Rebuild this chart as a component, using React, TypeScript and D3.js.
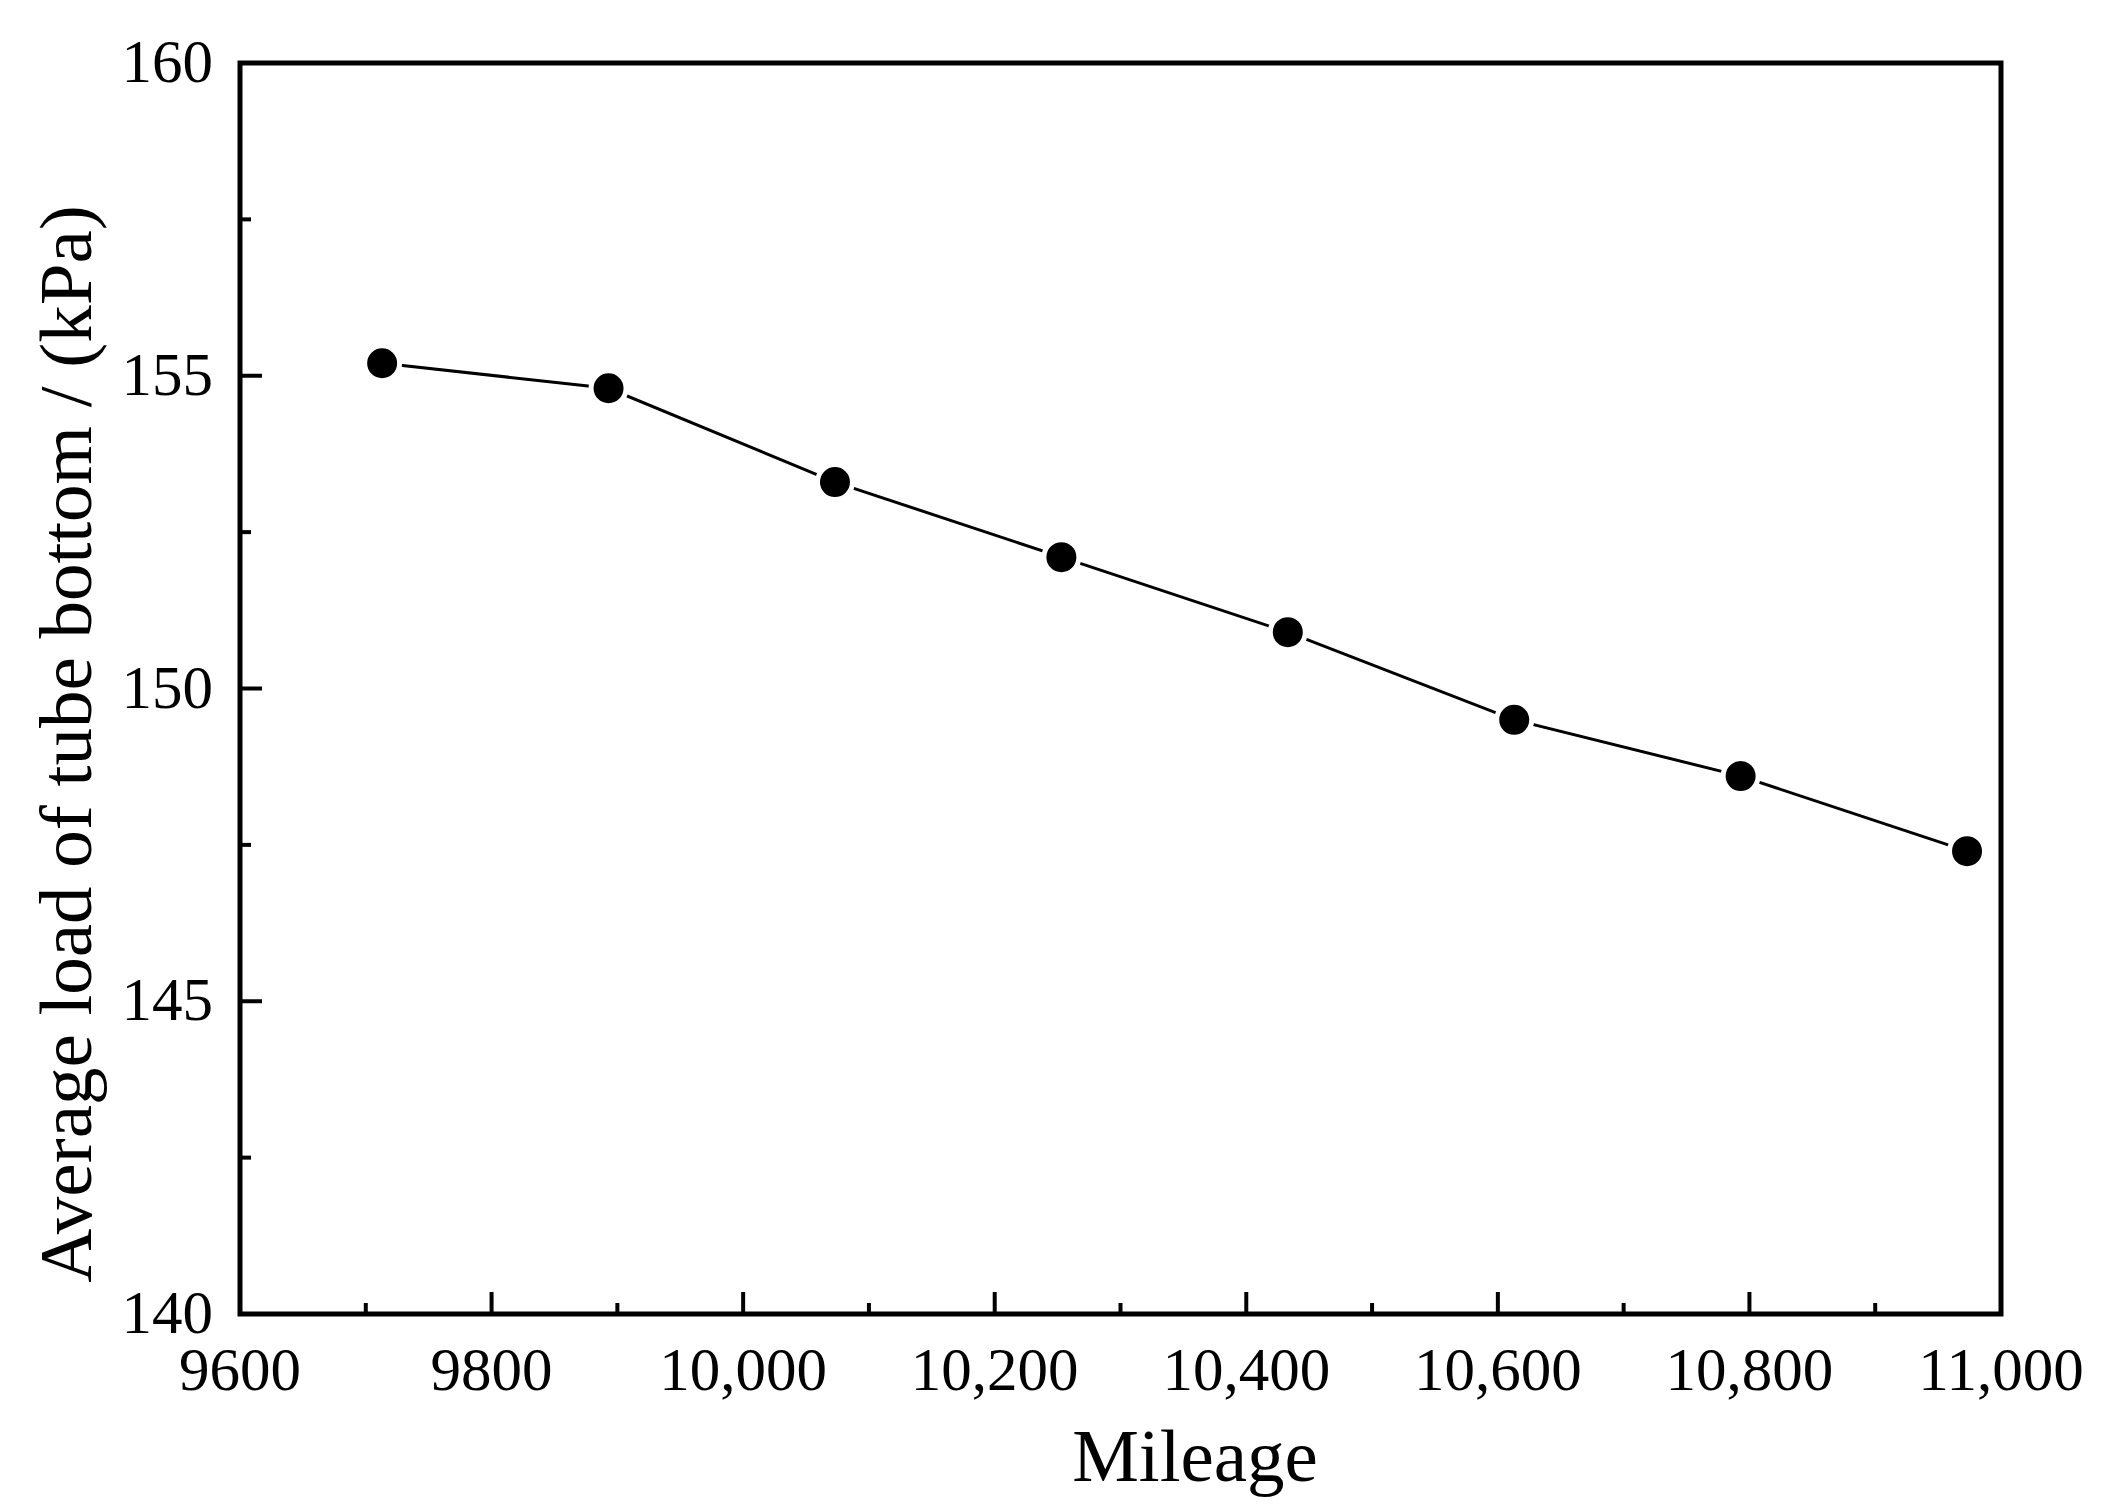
import React from "react";
import * as d3 from "d3";

const mileage = [9713, 9893, 10073, 10253, 10433, 10613, 10793, 10973];
const avgLoad = [155.2, 154.8, 153.3, 152.1, 150.9, 149.5, 148.6, 147.4];
const xMajorTicks = [9600, 9800, 10000, 10200, 10400, 10600, 10800, 11000];
const xMinorTicks = [9700, 9900, 10100, 10300, 10500, 10700, 10900];
const yMajorTicks = [140, 145, 150, 155, 160];
const yMinorTicks = [142.5, 147.5, 152.5, 157.5];
const xTitle = "Mileage";
const yTitle = "Average load of tube bottom / (kPa)";

const W = 2105;
const H = 1512;
const L = 240;
const R = 2001;
const T = 63;
const B = 1314;
const FONT = "'Liberation Serif', 'Times New Roman', serif";

export default function App() {
  const x = d3.scaleLinear().domain([9600, 11000]).range([L, R]);
  const y = d3.scaleLinear().domain([140, 160]).range([B, T]);
  const fmt = (v: number) => (v >= 10000 ? d3.format(",")(v) : String(v));
  const line = d3
    .line<number>()
    .x((_, i) => x(mileage[i]))
    .y((d) => y(d));

  return (
    <svg
      width={W}
      height={H}
      style={{ position: "absolute", left: 0, top: 0, background: "#fff" }}
    >
      <rect x={0} y={0} width={W} height={H} fill="#fff" />
      <path d={line(avgLoad) || ""} fill="none" stroke="#000" strokeWidth={3} />
      {avgLoad.map((v, i) => (
        <circle
          key={i}
          cx={x(mileage[i])}
          cy={y(v)}
          r={17.5}
          fill="#000"
          stroke="#fff"
          strokeWidth={5}
        />
      ))}
      {xMajorTicks.map((t) => (
        <g key={"xM" + t}>
          <line x1={x(t)} x2={x(t)} y1={B} y2={B - 22} stroke="#000" strokeWidth={4} />
          <text
            x={x(t)}
            y={1390}
            textAnchor="middle"
            fontFamily={FONT}
            fontSize={61}
            fill="#000"
          >
            {fmt(t)}
          </text>
        </g>
      ))}
      {xMinorTicks.map((t) => (
        <line key={"xm" + t} x1={x(t)} x2={x(t)} y1={B} y2={B - 11} stroke="#000" strokeWidth={4} />
      ))}
      {yMajorTicks.map((t) => (
        <g key={"yM" + t}>
          <line x1={L} x2={L + 22} y1={y(t)} y2={y(t)} stroke="#000" strokeWidth={4} />
          <text
            x={213}
            y={y(t) + 19}
            textAnchor="end"
            fontFamily={FONT}
            fontSize={61}
            fill="#000"
          >
            {t}
          </text>
        </g>
      ))}
      {yMinorTicks.map((t) => (
        <line key={"ym" + t} x1={L} x2={L + 11} y1={y(t)} y2={y(t)} stroke="#000" strokeWidth={4} />
      ))}
      <rect x={L} y={T} width={R - L} height={B - T} fill="none" stroke="#000" strokeWidth={5} />
      <text
        x={1195}
        y={1481}
        textAnchor="middle"
        fontFamily={FONT}
        fontSize={75}
        fill="#000"
      >
        {xTitle}
      </text>
      <text
        transform={`translate(91,744) rotate(-90)`}
        textAnchor="middle"
        fontFamily={FONT}
        fontSize={75}
        fill="#000"
      >
        {yTitle}
      </text>
    </svg>
  );
}
